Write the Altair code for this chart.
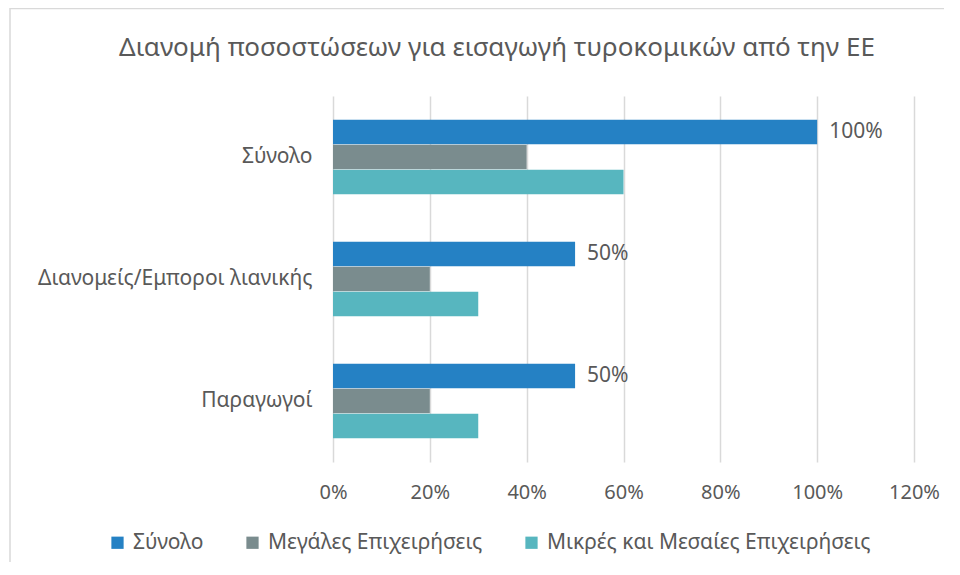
import altair as alt
import pandas as pd

title_text = "Διανομή ποσοστώσεων για εισαγωγή τυροκομικών από την ΕΕ"
categories = ["Σύνολο", "Διανομείς/Εμποροι λιανικής", "Παραγωγοί"]
series = ["Σύνολο", "Μεγάλες Επιχειρήσεις", "Μικρές και Μεσαίες Επιχειρήσεις"]
colors = ["#2581C4", "#7A8C8E", "#57B6BF"]
total = [1.00, 0.50, 0.50]
large = [0.40, 0.20, 0.20]
sme = [0.60, 0.30, 0.30]
x_ticks = [0, 0.2, 0.4, 0.6, 0.8, 1.0, 1.2]

rows = []
for i, c in enumerate(categories):
    for s, vals in zip(series, [total, large, sme]):
        rows.append({"category": c, "series": s, "value": vals[i]})
df = pd.DataFrame(rows)

FONT = "Noto Sans"
TXT = "#595959"

y_enc = alt.Y("category:N", sort=categories, title=None,
              scale=alt.Scale(paddingInner=0.385, paddingOuter=0.1925),
              axis=alt.Axis(domain=False, ticks=False, labelPadding=21, labelLimit=0,
                            labelFontSize=21, labelColor=TXT, labelFont=FONT))
yoff = alt.YOffset("series:N", sort=series, scale=alt.Scale(domain=series, paddingInner=0, paddingOuter=0))
x_enc = alt.X("value:Q", title=None,
              scale=alt.Scale(domain=[0, 1.2], nice=False),
              axis=alt.Axis(values=x_ticks, format=".0%", domain=False, ticks=False,
                            labelFlush=False,
                            labelPadding=20, labelFontSize=20, labelColor=TXT, labelFont=FONT,
                            grid=True, gridColor="#D9D9D9", gridWidth=1.5))

frame = alt.Chart(pd.DataFrame({"k": [0]})).mark_rect(
    fill=None, stroke="#D9D9D9", strokeWidth=1.5
).encode(x=alt.value(-323), x2=alt.value(800), y=alt.value(-87.5), y2=alt.value(700))

title = alt.Chart(pd.DataFrame({"t": [title_text]})).mark_text(
    align="center", baseline="middle", fontSize=26, color=TXT, font=FONT
).encode(x=alt.value(164), y=alt.value(-48), text="t:N")

bars = alt.Chart(df).mark_bar(size=24.5).encode(
    x=x_enc, y=y_enc, yOffset=yoff,
    color=alt.Color("series:N", sort=series,
                    scale=alt.Scale(domain=series, range=colors),
                    legend=alt.Legend(title=None, orient="none", direction="horizontal",
                                      legendX=-226, legendY=436,
                                      symbolType="square", symbolSize=150,
                                      symbolStrokeWidth=0, labelFontSize=21,
                                      labelColor=TXT, labelFont=FONT, labelLimit=0,
                                      columnPadding=38, labelOffset=5)),
)

labels = alt.Chart(df).transform_filter(alt.datum.series == "Σύνολο").mark_text(
    align="left", baseline="middle", dx=12, fontSize=21, color=TXT, font=FONT
).encode(
    x="value:Q", y=alt.Y("category:N", sort=categories), yOffset=yoff,
    text=alt.Text("value:Q", format=".0%"),
)

chart = alt.layer(frame, title, bars, labels).properties(
    width=581, height=366,
    autosize=alt.AutoSizeParams(type="none"),
    padding={"left": 325, "top": 88, "right": 30, "bottom": 100},
).configure(background="white", view=alt.ViewConfig(stroke=None))

chart.save("out.html", embed_options={"renderer": "svg", "actions": False})
